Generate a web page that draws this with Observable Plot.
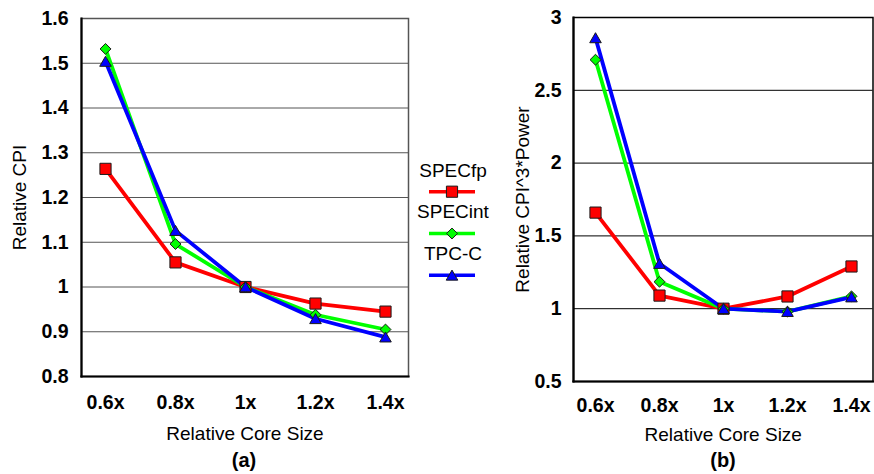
<!DOCTYPE html>
<html><head><meta charset="utf-8">
<script src="https://cdn.jsdelivr.net/npm/d3@7"></script>
<script src="https://cdn.jsdelivr.net/npm/@observablehq/plot@0.6"></script>
<style>
body{margin:0;background:#fff;font-family:Arial,"Liberation Sans",sans-serif;}
#wrap{position:relative;width:874px;height:474px;overflow:hidden;background:#fff}
#left{position:absolute;left:0;top:0}
#right{position:absolute;left:500px;top:0}
#legend{position:absolute;left:405px;top:150px}
.cap{position:absolute;font-weight:bold;font-size:20px;transform:translate(-50%,-50%);color:#000}
</style></head><body><div id="wrap">
<div id="left"></div><div id="right"></div><div id="legend"></div>
<div class="cap" style="left:244px;top:460px">(a)</div>
<div class="cap" style="left:723px;top:460px">(b)</div>
</div>
<script>
const sizes = ["0.6x", "0.8x", "1x", "1.2x", "1.4x"];
const seriesNames = ["SPECfp", "SPECint", "TPC-C"];
const cpiSPECfp = [1.264, 1.055, 1.0, 0.963, 0.945];
const cpiSPECint = [1.532, 1.096, 1.0, 0.938, 0.905];
const cpiTPCC = [1.504, 1.126, 1.0, 0.929, 0.888];
const powSPECfp = [1.66, 1.09, 1.0, 1.084, 1.29];
const powSPECint = [2.71, 1.185, 1.0, 0.98, 1.085];
const powTPCC = [2.86, 1.31, 1.0, 0.98, 1.08];
const cpiTicks = [0.8, 0.9, 1, 1.1, 1.2, 1.3, 1.4, 1.5, 1.6];
const powTicks = [0.5, 1, 1.5, 2, 2.5, 3];
const seriesColors = ["#ff0000", "#00ff00", "#0000ff"];
const seriesSymbols = ["square", "diamond2", "triangle"];
const seriesR = [6.3, 4.9, 4.3];
const seriesDy = [0, 0, 1.5];

function rows(arrs) {
  const out = [];
  arrs.forEach((vals, si) => vals.forEach((v, i) => out.push({series: seriesNames[si], size: sizes[i], value: v})));
  return out;
}
const cpiRows = rows([cpiSPECfp, cpiSPECint, cpiTPCC]);
const powRows = rows([powSPECfp, powSPECint, powTPCC]);

const FONT = "Arial, 'Liberation Sans', sans-serif";

function panel({data, ticks, ylabel, width, height, ml, mt, mr, mb, xpad, ypad, ylabDx, xlabDy, padding, frameColor, gridColor}) {
  const marks = [
    Plot.ruleY(ticks.slice(1, -1), {stroke: gridColor, strokeWidth: 1}),
    Plot.frame({stroke: frameColor, strokeWidth: 1.5}),
    Plot.frame({anchor: "left", stroke: "#000", strokeWidth: 2.2}),
    Plot.frame({anchor: "bottom", stroke: "#000", strokeWidth: 2.2}),
    Plot.axisY(ticks, {tickSize: 0, tickPadding: ypad, fontWeight: "bold", fontSize: 19.5, tickFormat: d => String(d)}),
    Plot.axisX(sizes, {tickSize: 0, tickPadding: xpad, fontWeight: "bold", fontSize: 19.5, label: null}),
    Plot.text([ylabel], {text: d => d, frameAnchor: "left", textAnchor: "middle", rotate: -90, dx: -ylabDx, fontSize: 19, lineAnchor: "middle"}),
    Plot.text(["Relative Core Size"], {text: d => d, frameAnchor: "bottom", textAnchor: "middle", dy: xlabDy, fontSize: 19, lineAnchor: "middle"})
  ];
  seriesNames.forEach((name, si) => {
    const d = data.filter(r => r.series === name);
    marks.push(Plot.line(d, {x: "size", y: "value", stroke: seriesColors[si], strokeWidth: 3.8, strokeLinejoin: "round"}));
  });
  seriesNames.forEach((name, si) => {
    const d = data.filter(r => r.series === name);
    marks.push(Plot.dot(d, {x: "size", y: "value", symbol: () => seriesSymbols[si], r: seriesR[si], fill: seriesColors[si], stroke: "#1a1a1a", strokeWidth: 1, dy: seriesDy[si]}));
  });
  return Plot.plot({
    width, height, marginLeft: ml, marginTop: mt, marginRight: mr, marginBottom: mb,
    style: {fontFamily: FONT, fontSize: "19px", color: "#000", background: "transparent", overflow: "visible"},
    x: {type: "point", domain: sizes, padding, label: null},
    y: {domain: [ticks[0], ticks[ticks.length - 1]], label: null},
    symbol: {type: "identity"},
    marks
  });
}

document.getElementById("left").append(panel({
  data: cpiRows, ticks: cpiTicks, ylabel: "Relative CPI",
  width: 412, height: 446, ml: 81, mt: 18, mr: 4, mb: 70,
  xpad: 19, ypad: 13, ylabDx: 62, xlabDy: 57, padding: 0.33,
  frameColor: "#555", gridColor: "#555"
}));
document.getElementById("right").append(panel({
  data: powRows, ticks: powTicks, ylabel: "Relative CPI^3*Power",
  width: 374, height: 451, ml: 73, mt: 17, mr: 1.5, mb: 70,
  xpad: 17, ypad: 12, ylabDx: 51, xlabDy: 53, padding: 0.31,
  frameColor: "#000", gridColor: "#000"
}));

// legend
const lg = d3.select("#legend").append("svg").attr("width", 100).attr("height", 140)
  .style("font-family", FONT).style("overflow", "visible");
seriesNames.forEach((name, i) => {
  const g = lg.append("g").attr("transform", `translate(0,${i * 41.8})`);
  g.append("text").attr("x", 48).attr("y", 20).attr("text-anchor", "middle")
    .attr("dominant-baseline", "central").attr("font-size", 19).text(name);
  g.append("line").attr("x1", 24).attr("x2", 70).attr("y1", 41.7).attr("y2", 41.7)
    .attr("stroke", seriesColors[i]).attr("stroke-width", 3.5);
  const sym = {square: d3.symbolSquare, diamond2: d3.symbolDiamond2, triangle: d3.symbolTriangle}[seriesSymbols[i]];
  g.append("path").attr("d", d3.symbol(sym, Math.PI * seriesR[i] ** 2)())
    .attr("transform", `translate(47,${41.7 + seriesDy[i]})`)
    .attr("fill", seriesColors[i]).attr("stroke", "#1a1a1a").attr("stroke-width", 1);
});
</script>
</body></html>
